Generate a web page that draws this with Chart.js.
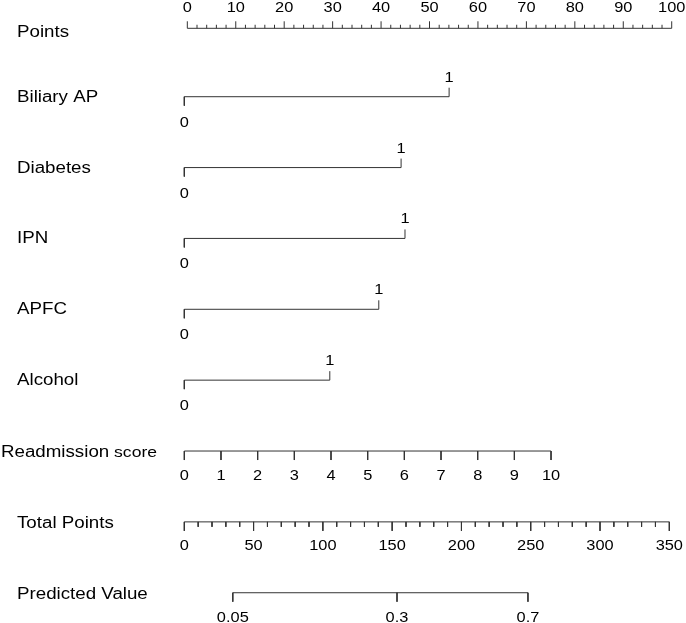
<!DOCTYPE html>
<html>
<head>
<meta charset="utf-8">
<script src="https://cdn.jsdelivr.net/npm/chart.js@4.4.0/dist/chart.umd.min.js"></script>
<style>
  html, body { margin: 0; padding: 0; background: #fff; }
</style>
</head>
<body>
<canvas id="nomogram" width="686" height="623"></canvas>
<script>
// values
const pointTicks = [0, 10, 20, 30, 40, 50, 60, 70, 80, 90, 100];
const pointMinorStep = 2;

const factorNames = ['Biliary AP', 'Diabetes', 'IPN', 'APFC', 'Alcohol'];
const factorPoints = [54.6, 44.7, 45.5, 40.1, 30.0];   // points for level "1"
const levelLabels = ['0', '1'];

const scoreTicks = [0, 1, 2, 3, 4, 5, 6, 7, 8, 9, 10];

const totalTicks = [0, 50, 100, 150, 200, 250, 300, 350];
const totalMinorStep = 10;

const predictedLabels = ['0.05', '0.3', '0.7'];
const predictedAtTotal = [35, 153.5, 248];

// styles
const LINE = '#333333';
const TITLE_FONT = '16px "Liberation Sans", Arial, sans-serif';
const SMALL_TITLE_FONT = '15px "Liberation Sans", Arial, sans-serif';
const TICK_FONT = '14px "Liberation Sans", Arial, sans-serif';
const STRETCH = 1.17;
const TICK_LONG = 0.127, TICK_MID = 0.099, TICK_SHORT = 0.05, TICK_MINOR = 0.07;

// rows: 0 Points, 1-5 factors, 6 score, 7 total, 8 predicted
const ROW_SCORE = 6, ROW_TOTAL = 7, ROW_PRED = 8;

function segments(list) {
  const out = [];
  list.forEach(s => {
    out.push({ x: s[0], y: s[1] }, { x: s[2], y: s[3] }, { x: s[2], y: null });
  });
  return out;
}

function axisLine(xAxisID, yAxisID, row, from, to, majors, majorLen, minors, minorLen, dir) {
  const segs = [[from, row, to, row]];
  majors.forEach(v => segs.push([v, row, v, row + dir * majorLen]));
  (minors || []).forEach(v => segs.push([v, row, v, row + dir * minorLen]));
  return {
    xAxisID, yAxisID,
    data: segments(segs),
    showLine: true, spanGaps: false,
    borderColor: LINE, borderWidth: 1,
    pointRadius: 0, pointHoverRadius: 0, fill: false, tension: 0
  };
}

const pointMinor = [];
for (let v = 0; v <= 100; v += pointMinorStep) if (v % 10 !== 0) pointMinor.push(v);
const totalMinor = [];
for (let v = 0; v <= 350; v += totalMinorStep) if (v % 50 !== 0) totalMinor.push(v);

const datasets = [];
datasets.push(axisLine('xTop', 'yTop', 0, 0, 100, pointTicks, TICK_MID, pointMinor, TICK_SHORT, -1));
factorNames.forEach((name, i) => {
  const row = i + 1;
  const ds = axisLine('x', 'y', row, 0, factorPoints[i], [], 0, [], 0, 1);
  ds.data = segments([
    [0, row, factorPoints[i], row],
    [0, row, 0, row + TICK_LONG],
    [factorPoints[i], row, factorPoints[i], row - TICK_LONG]
  ]);
  datasets.push(ds);
});
datasets.push(axisLine('xScore', 'y', ROW_SCORE, scoreTicks[0], scoreTicks[scoreTicks.length - 1], scoreTicks, TICK_LONG, [], 0, 1));
datasets.push(axisLine('xTotal', 'y', ROW_TOTAL, 0, 350, totalTicks, TICK_LONG, totalMinor, TICK_MINOR, 1));
datasets.push(axisLine('xTotal', 'y', ROW_PRED, predictedAtTotal[0], predictedAtTotal[predictedAtTotal.length - 1], predictedAtTotal, TICK_LONG, [], 0, 1));

// text items
const tickTexts = [];
pointTicks.forEach(v => tickTexts.push({ x: 'xTop', y: 'yTop', row: 0, value: v, text: String(v), dy: -16 }));
factorNames.forEach((name, i) => {
  tickTexts.push({ x: 'x', y: 'y', row: i + 1, value: 0, text: levelLabels[0], dy: 30 });
  tickTexts.push({ x: 'x', y: 'y', row: i + 1, value: factorPoints[i], text: levelLabels[1], dy: -15 });
});
scoreTicks.forEach(v => tickTexts.push({ x: 'xScore', y: 'y', row: ROW_SCORE, value: v, text: String(v), dy: 29 }));
totalTicks.forEach(v => tickTexts.push({ x: 'xTotal', y: 'y', row: ROW_TOTAL, value: v, text: String(v), dy: 28 }));
predictedLabels.forEach((t, i) => tickTexts.push({ x: 'xTotal', y: 'y', row: ROW_PRED, value: predictedAtTotal[i], text: t, dy: 29 }));

const titles = [{ row: 0, y: 'yTop', text: 'Points', dy: 9 }];
factorNames.forEach((name, i) => titles.push({ row: i + 1, y: 'y', text: name, dy: 5 }));
titles.push({ row: ROW_TOTAL, y: 'y', text: 'Total Points', dy: 6 });
titles.push({ row: ROW_PRED, y: 'y', text: 'Predicted Value', dy: 6 });

function drawText(ctx, text, x, y, font, align) {
  ctx.save();
  ctx.translate(x, y);
  ctx.scale(STRETCH, 1);
  ctx.font = font;
  ctx.textAlign = align;
  ctx.textBaseline = 'alphabetic';
  ctx.fillText(text, 0, 0);
  const w = ctx.measureText(text).width * STRETCH;
  ctx.restore();
  return w;
}

const textPlugin = {
  id: 'nomogramText',
  afterDatasetsDraw(chart) {
    const ctx = chart.ctx;
    ctx.save();
    ctx.fillStyle = '#000';
    tickTexts.forEach(t => {
      const px = chart.scales[t.x].getPixelForValue(t.value);
      const py = chart.scales[t.y].getPixelForValue(t.row) + t.dy;
      drawText(ctx, t.text, px, py, TICK_FONT, 'center');
    });
    titles.forEach(t => {
      const py = chart.scales[t.y].getPixelForValue(t.row) + t.dy;
      drawText(ctx, t.text, 17, py, TITLE_FONT, 'left');
    });
    const sy = chart.scales.y.getPixelForValue(ROW_SCORE) + 6;
    const w = drawText(ctx, 'Readmission', 1, sy, TITLE_FONT, 'left');
    drawText(ctx, ' score', 1 + w, sy, SMALL_TITLE_FONT, 'left');
    ctx.restore();
  }
};

const hidden = { type: 'linear', display: false };

new Chart(document.getElementById('nomogram'), {
  type: 'scatter',
  data: { datasets },
  options: {
    responsive: false,
    animation: false,
    events: [],
    layout: { padding: 0, autoPadding: false },
    plugins: { legend: { display: false }, tooltip: { enabled: false } },
    scales: {
      x:      { ...hidden, min: -38.0,  max: 103.44 },
      xTop:   { ...hidden, min: -38.67, max: 102.95 },
      xScore: { ...hidden, min: -5.026, max: 13.68 },
      xTotal: { ...hidden, min: -133.0, max: 362.05 },
      y:      { ...hidden, reverse: true, min: -0.3647, max: 8.427 },
      yTop:   { ...hidden, reverse: true, min: -0.3994, max: 8.393 }
    }
  },
  plugins: [textPlugin]
});
</script>
</body>
</html>
